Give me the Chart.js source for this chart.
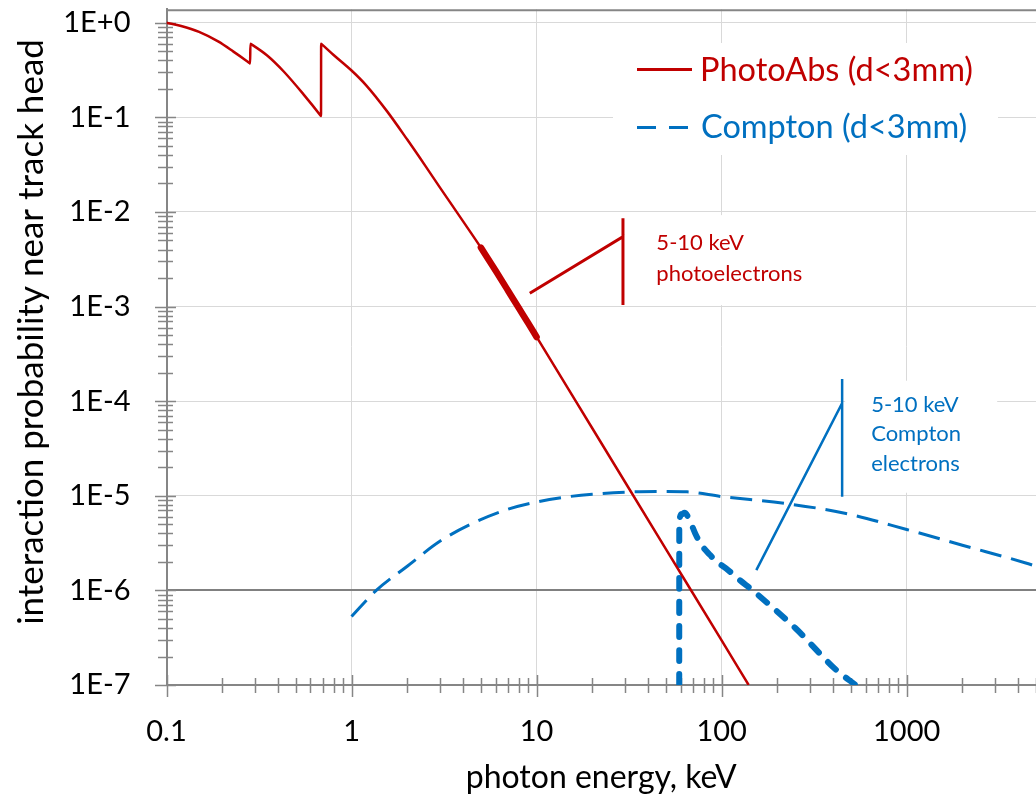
<!DOCTYPE html>
<html><head><meta charset="utf-8">
<script src="https://cdn.jsdelivr.net/npm/chart.js@4.4.1/dist/chart.umd.min.js"></script>
<style>html,body{margin:0;padding:0;background:#fff;overflow:hidden}</style>
</head><body>
<canvas id="c" width="1036" height="797"></canvas>
<script>
// ---------- data ----------
const xDecades = [0.1, 1, 10, 100, 1000];
const xTickLabels = ['0.1', '1', '10', '100', '1000'];
const yDecades = [1e-7, 1e-6, 1e-5, 1e-4, 1e-3, 1e-2, 1e-1, 1];
const yTickLabels = ['1E-7', '1E-6', '1E-5', '1E-4', '1E-3', '1E-2', '1E-1', '1E+0'];

const seriesNames = ['PhotoAbs (d<3mm)', 'Compton (d<3mm)'];

const photoAbsE = [0.1,0.12,0.15,0.19,0.23,0.27,0.282,0.283,0.2841,0.2845,0.35,0.43,0.55,0.683,0.684,0.685,0.6865,0.8,1,1.2,1.55,2,2.5,3,4,5,6,7,8,9,10,20,50,100,140];
const photoAbsP = [1.0,0.923,0.799,0.634,0.495,0.397,0.372,0.37,0.60,0.599,0.45,0.305,0.175,0.1034,0.103,0.60,0.598,0.456,0.3125,0.218,0.117,0.0582,0.0309,0.0182,0.0080,0.0042,0.0024,0.00148,0.00097,0.00067,0.000477,5.17e-5,2.73e-6,2.96e-7,1.0e-7];

const photoBandE = [5,6,7,8,9,10];
const photoBandP = [0.0042,0.0024,0.00148,0.00097,0.00067,0.000477];

const comptonE = [1,1.36,2,3,4.5,7,10,15,20,33,50,65,100,220,470,1000,2000,4400,5000];
const comptonP = [5.3e-7,1.0e-6,1.8e-6,3.3e-6,5.1e-6,7.2e-6,8.6e-6,9.8e-6,1.04e-5,1.10e-5,1.11e-5,1.10e-5,9.8e-6,8.3e-6,6.5e-6,4.4e-6,3.0e-6,1.95e-6,1.8e-6];

const comptonBandE = [59,59.05,61,63,67,72,78,86,93,108,125,147,250,415,530];
const comptonBandP = [1e-7,5.3e-6,6.4e-6,6.6e-6,5.6e-6,4.0e-6,3.0e-6,2.4e-6,2.05e-6,1.65e-6,1.29e-6,1.0e-6,4.0e-7,1.45e-7,1.0e-7];

// annotation brackets (data coordinates)
const photoBracketE = [9.19, 29.3, 29.3, 29.3];
const photoBracketP = [1.38e-3, 5.47e-3, 8.55e-3, 1.04e-3];
const comptonBracketE = [154, 448, 448, 448];
const comptonBracketP = [1.64e-6, 9.5e-5, 1.71e-4, 9.75e-6];

const photoLabelLines = ['5-10 keV', 'photoelectrons'];
const photoLabelAt = [44.4, 3.95e-3];
const comptonLabelLines = ['5-10 keV', 'Compton', 'electrons'];
const comptonLabelAt = [643, 7.73e-5];

const xTitle = 'photon energy, keV';
const yTitle = 'interaction probability near track head';

// ---------- styles ----------
const RED = '#C00000';
const BLUE = '#0070C0';
const AXIS = '#868686';
const GRID = '#D9D9D9';
const FONT = 'Lato';

const pts = (E, P) => E.map((e, i) => ({x: e, y: P[i]}));
const isDec = v => Math.abs(Math.log10(v) - Math.round(Math.log10(v))) < 1e-9;
const near = (a, b) => Math.abs(a - b) / b < 1e-6;

const xTickVals = [];
xDecades.forEach(d => { for (let m = 1; m <= 9; m++) if (d * m <= 5000 * 1.0001) xTickVals.push(d * m); });
const yTickVals = [];
yDecades.forEach(d => { for (let m = 1; m <= 9; m++) if (d * m <= 1.0001) yTickVals.push(d * m); });

const deco = {
  id: 'deco',
  beforeDatasetsDraw(chart) {
    const {ctx, chartArea: a, scales: {x, y}} = chart;
    ctx.save();
    // white boxes behind legend and annotation texts
    ctx.fillStyle = '#fff';
    ctx.fillRect(613, 43, 385, 112);
    const rx = x.getPixelForValue(photoLabelAt[0]), ry = y.getPixelForValue(photoLabelAt[1]);
    ctx.fillRect(rx - 16, ry - 35, 180, 90);
    const bx = x.getPixelForValue(comptonLabelAt[0]), by = y.getPixelForValue(comptonLabelAt[1]);
    ctx.fillRect(bx - 26, by - 31, 152, 112);
    // tick marks
    ctx.strokeStyle = AXIS;
    ctx.lineWidth = 1.5;
    ctx.beginPath();
    xTickVals.forEach(v => {
      const px = Math.round(x.getPixelForValue(v)) + 0.5;
      const maj = isDec(v);
      ctx.moveTo(px, a.bottom - (maj ? 10 : 7));
      ctx.lineTo(px, a.bottom + (maj ? 12 : 8));
    });
    yTickVals.forEach(v => {
      const py = Math.round(y.getPixelForValue(v)) + 0.5;
      const maj = isDec(v);
      ctx.moveTo(a.left - (maj ? 11.5 : 8.5), py);
      ctx.lineTo(a.left + (maj ? 9.5 : 6.5), py);
    });
    ctx.stroke();
    // top border
    ctx.lineWidth = 2;
    ctx.beginPath();
    ctx.moveTo(a.left, a.top + 1);
    ctx.lineTo(a.right, a.top + 1);
    ctx.stroke();
    ctx.restore();
  },
  afterDatasetsDraw(chart) {
    const {ctx, scales: {x, y}} = chart;
    ctx.save();
    // y axis title
    ctx.save();
    ctx.translate(32, 332);
    ctx.rotate(-Math.PI / 2);
    ctx.font = '35px ' + FONT;
    ctx.fillStyle = '#000';
    ctx.textAlign = 'center';
    ctx.textBaseline = 'middle';
    ctx.fillText(yTitle, 0, 0);
    ctx.restore();
    // legend
    ctx.lineWidth = 3;
    ctx.strokeStyle = RED;
    ctx.beginPath(); ctx.moveTo(637, 69.5); ctx.lineTo(692, 69.5); ctx.stroke();
    ctx.strokeStyle = BLUE;
    ctx.setLineDash([19, 13]);
    ctx.beginPath(); ctx.moveTo(637, 127.5); ctx.lineTo(692, 127.5); ctx.stroke();
    ctx.setLineDash([]);
    ctx.font = '32.5px ' + FONT;
    ctx.textBaseline = 'alphabetic';
    ctx.textAlign = 'left';
    ctx.fillStyle = RED;
    ctx.fillText(seriesNames[0], 700, 81);
    ctx.fillStyle = BLUE;
    ctx.fillText(seriesNames[1], 701, 138);
    // annotation texts
    ctx.font = '22px ' + FONT;
    ctx.fillStyle = RED;
    let px = x.getPixelForValue(photoLabelAt[0]), py = y.getPixelForValue(photoLabelAt[1]);
    photoLabelLines.forEach((t, i) => ctx.fillText(t, px, py + i * 31));
    ctx.fillStyle = BLUE;
    px = x.getPixelForValue(comptonLabelAt[0]); py = y.getPixelForValue(comptonLabelAt[1]);
    comptonLabelLines.forEach((t, i) => ctx.fillText(t, px, py + i * 29.5));
    ctx.restore();
  }
};

new Chart(document.getElementById('c'), {
  type: 'line',
  data: {
    datasets: [
      {label: seriesNames[0], data: pts(photoAbsE, photoAbsP), borderColor: RED, borderWidth: 2.5, pointRadius: 0, cubicInterpolationMode: 'monotone'},
      {label: 'photoBand', data: pts(photoBandE, photoBandP), borderColor: RED, borderWidth: 6.5, pointRadius: 0, cubicInterpolationMode: 'monotone', borderCapStyle: 'round'},
      {label: seriesNames[1], data: pts(comptonE, comptonP), borderColor: BLUE, borderWidth: 3, borderDash: [22, 10], pointRadius: 0, cubicInterpolationMode: 'monotone'},
      {label: 'comptonBand', data: pts(comptonBandE, comptonBandP), borderColor: BLUE, borderWidth: 6, borderDash: [11, 13], borderCapStyle: 'round', pointRadius: 0, cubicInterpolationMode: 'monotone'},
      {label: 'photoBracket', data: pts(photoBracketE, photoBracketP), borderColor: RED, borderWidth: 3, pointRadius: 0, tension: 0},
      {label: 'comptonBracket', data: pts(comptonBracketE, comptonBracketP), borderColor: BLUE, borderWidth: 2.5, pointRadius: 0, tension: 0}
    ]
  },
  options: {
    responsive: false,
    animation: false,
    devicePixelRatio: 1,
    layout: {padding: {top: 9.3, left: 0, right: 0, bottom: 0}},
    plugins: {legend: {display: false}, tooltip: {enabled: false}},
    scales: {
      x: {
        type: 'logarithmic', position: 'bottom', min: 0.1, max: 5000,
        afterBuildTicks: s => { s.ticks = xTickVals.map(v => ({value: v})); },
        afterFit: s => { s.height = 112; s.paddingLeft = 0; s.paddingRight = 0; },
        ticks: {
          autoSkip: false, maxRotation: 0, minRotation: 0, padding: 29, color: '#000',
          font: {family: FONT, size: 29},
          callback: v => { const i = xDecades.findIndex(d => near(v, d)); return i >= 0 ? xTickLabels[i] : ''; }
        },
        grid: {
          drawTicks: false,
          color: c => { const v = c.tick && c.tick.value; return (v && isDec(v) && !near(v, 0.1)) ? GRID : 'rgba(0,0,0,0)'; },
          lineWidth: 1
        },
        border: {display: true, color: AXIS, width: 2},
        title: {display: true, text: xTitle, color: '#000', font: {family: FONT, size: 32}, padding: {top: 0, bottom: 0}}
      },
      y: {
        type: 'logarithmic', position: 'left', min: 1e-7, max: 1.386,
        afterBuildTicks: s => { s.ticks = yTickVals.map(v => ({value: v})); },
        afterFit: s => { s.width = 166.5; s.paddingTop = 0; s.paddingBottom = 0; },
        ticks: {
          autoSkip: false, padding: 36, color: '#000',
          font: {family: FONT, size: 29},
          callback: v => { const i = yDecades.findIndex(d => near(v, d)); return i >= 0 ? yTickLabels[i] : ''; }
        },
        grid: {
          drawTicks: false,
          color: c => {
            const v = c.tick && c.tick.value;
            if (!v || !isDec(v) || near(v, 1e-7)) return 'rgba(0,0,0,0)';
            return near(v, 1e-6) ? '#808080' : GRID;
          },
          lineWidth: c => (c.tick && near(c.tick.value, 1e-6)) ? 2 : 1
        },
        border: {display: true, color: AXIS, width: 2},
        title: {display: false}
      }
    }
  },
  plugins: [deco]
});
</script>
</body></html>
